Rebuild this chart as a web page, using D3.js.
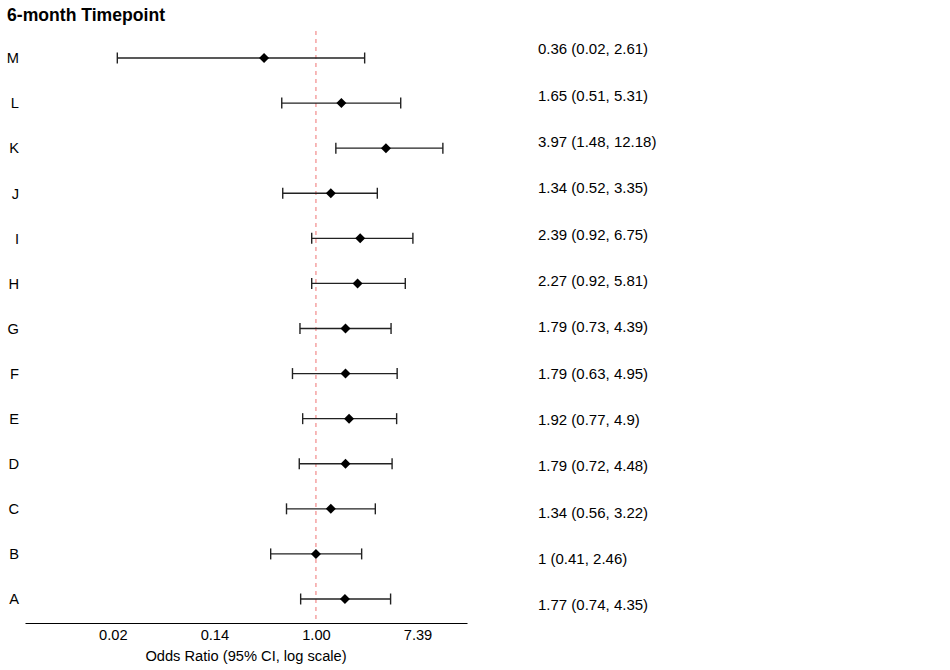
<!DOCTYPE html>
<html>
<head>
<meta charset="utf-8">
<script src="https://cdn.jsdelivr.net/npm/d3@7"></script>
<style>
  body { margin: 0; background: #fff; }
  svg { font-family: "Liberation Sans", Arial, sans-serif; }
</style>
</head>
<body>
<svg id="chart" width="950" height="670"></svg>
<script>
// rows, bottom to top as in the picture
const labels = ['A', 'B', 'C', 'D', 'E', 'F', 'G', 'H', 'I', 'J', 'K', 'L', 'M'];
const estimate = [1.77, 1, 1.34, 1.79, 1.92, 1.79, 1.79, 2.27, 2.39, 1.34, 3.97, 1.65, 0.36];
const lower = [0.74, 0.41, 0.56, 0.72, 0.77, 0.63, 0.73, 0.92, 0.92, 0.52, 1.48, 0.51, 0.02];
const upper = [4.35, 2.46, 3.22, 4.48, 4.9, 4.95, 4.39, 5.81, 6.75, 3.35, 12.18, 5.31, 2.61];
const tickValues = [Math.exp(-4), Math.exp(-2), 1, Math.exp(2)];
const tickLabels = ['0.02', '0.14', '1.00', '7.39'];

const data = labels.map((d, i) => ({ label: d, est: estimate[i], lo: lower[i], hi: upper[i] }));

const svg = d3.select('#chart');
const fs = 14.67;

const x = d3.scaleLog()
  .base(Math.E)
  .domain([Math.exp(-5.73), Math.exp(2.975)])
  .range([25, 467]);

const y = d3.scalePoint()
  .domain(labels)
  .range([599, 58]);

// text column has its own vertical spacing
const yText = d3.scalePoint()
  .domain(labels)
  .range([605, 49]);

// title
svg.append('text')
  .attr('x', 7)
  .attr('y', 21)
  .attr('font-size', 17.6)
  .attr('font-weight', 'bold')
  .text('6-month Timepoint');

// reference line at OR = 1
svg.append('line')
  .attr('x1', x(1)).attr('x2', x(1))
  .attr('y1', 31).attr('y2', 623)
  .attr('stroke', '#f08080')
  .attr('stroke-width', 1.1)
  .attr('stroke-dasharray', '4,4');

// x axis
const xAxis = svg.append('g')
  .attr('transform', 'translate(0,623)')
  .call(d3.axisBottom(x)
    .tickValues(tickValues)
    .tickFormat((d, i) => tickLabels[i])
    .tickSize(0)
    .tickPadding(7));
xAxis.select('.domain').attr('stroke', '#000').attr('stroke-width', 1.2);
xAxis.selectAll('text')
  .attr('font-size', fs)
  .attr('font-family', '"Liberation Sans", Arial, sans-serif')
  .attr('fill', '#000');

svg.append('text')
  .attr('x', (25 + 467) / 2)
  .attr('y', 661)
  .attr('text-anchor', 'middle')
  .attr('font-size', fs)
  .text('Odds Ratio (95% CI, log scale)');

// y labels
svg.append('g')
  .selectAll('text')
  .data(data)
  .join('text')
  .attr('x', 19)
  .attr('y', d => y(d.label))
  .attr('dy', '0.36em')
  .attr('text-anchor', 'end')
  .attr('font-size', fs)
  .text(d => d.label);

// error bars
const bars = svg.append('g')
  .attr('stroke', '#222')
  .attr('stroke-width', 1.4);

bars.selectAll('.ci')
  .data(data)
  .join('line')
  .attr('class', 'ci')
  .attr('x1', d => x(d.lo))
  .attr('x2', d => x(d.hi))
  .attr('y1', d => y(d.label))
  .attr('y2', d => y(d.label));

bars.selectAll('.cap-lo')
  .data(data)
  .join('line')
  .attr('class', 'cap-lo')
  .attr('x1', d => x(d.lo))
  .attr('x2', d => x(d.lo))
  .attr('y1', d => y(d.label) - 5.5)
  .attr('y2', d => y(d.label) + 5.5);

bars.selectAll('.cap-hi')
  .data(data)
  .join('line')
  .attr('class', 'cap-hi')
  .attr('x1', d => x(d.hi))
  .attr('x2', d => x(d.hi))
  .attr('y1', d => y(d.label) - 5.5)
  .attr('y2', d => y(d.label) + 5.5);

// point estimates (square turned 45 degrees)
svg.append('g')
  .selectAll('path')
  .data(data)
  .join('path')
  .attr('d', d3.symbol(d3.symbolSquare, 50))
  .attr('transform', d => `translate(${x(d.est)},${y(d.label)}) rotate(45)`)
  .attr('fill', '#000');

// estimate text column
svg.append('g')
  .selectAll('text')
  .data(data)
  .join('text')
  .attr('x', 538)
  .attr('y', d => yText(d.label))
  .attr('dy', '0.36em')
  .attr('font-size', 15)
  .text(d => `${d.est} (${d.lo}, ${d.hi})`);
</script>
</body>
</html>
